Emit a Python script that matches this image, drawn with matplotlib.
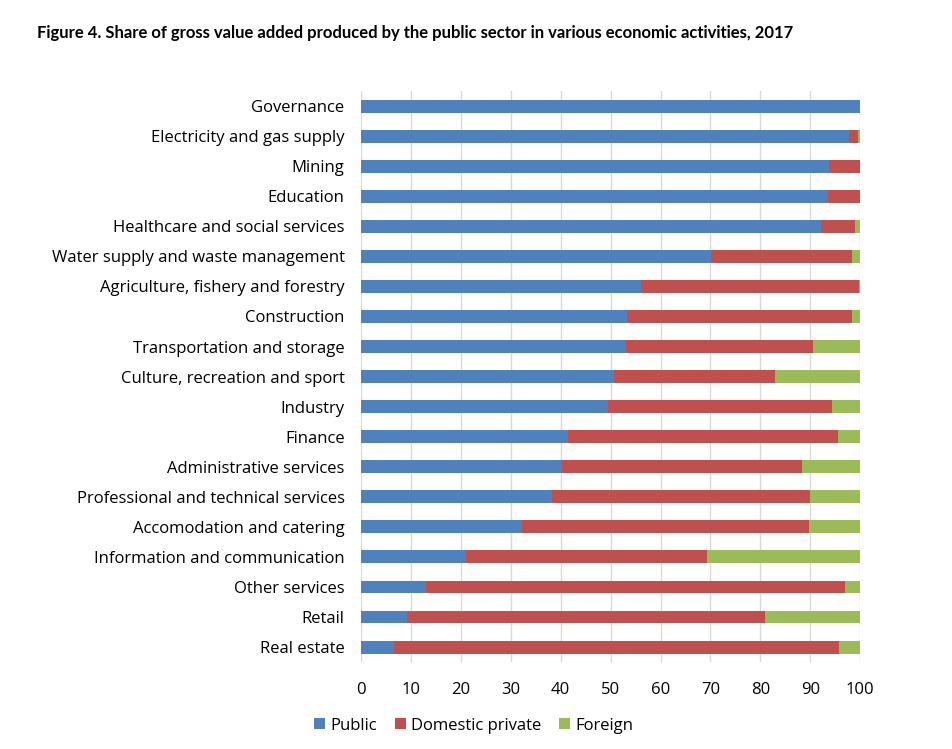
import matplotlib.pyplot as plt
import numpy as np

categories = [
    "Governance",
    "Electricity and gas supply",
    "Mining",
    "Education",
    "Healthcare and social services",
    "Water supply and waste management",
    "Agriculture, fishery and forestry",
    "Construction",
    "Transportation and storage",
    "Culture, recreation and sport",
    "Industry",
    "Finance",
    "Administrative services",
    "Professional and technical services",
    "Accomodation and catering",
    "Information and communication",
    "Other services",
    "Retail",
    "Real estate",
]
public = [100.0, 97.8, 93.8, 93.5, 92.2, 70.1, 56.0, 53.2, 53.0, 50.6,
          49.4, 41.5, 40.3, 38.2, 32.3, 21.1, 13.0, 9.2, 6.6]
domestic = [0.0, 1.7, 6.2, 6.5, 6.8, 28.2, 43.7, 45.1, 37.5, 32.3,
            45.0, 54.1, 48.1, 51.8, 57.5, 48.2, 84.0, 71.8, 89.2]
foreign = [0.0, 0.5, 0.0, 0.0, 1.0, 1.7, 0.3, 1.7, 9.5, 17.1,
           5.6, 4.4, 11.6, 10.0, 10.2, 30.7, 3.0, 19.0, 4.2]

colors = ["#4F81BD", "#C0504D", "#9BBB59"]

plt.rcParams['font.family'] = ['Open Sans', 'DejaVu Sans']

fig = plt.figure(figsize=(9.53, 7.49), dpi=100)
ax = fig.add_axes([0.379, 0.116, 0.5235, 0.7624])

y = np.arange(len(categories))
pub = np.array(public)
dom = np.array(domestic)
frn = np.array(foreign)
h = 0.43
ax.barh(y, pub, height=h, color=colors[0], label="Public", zorder=3)
ax.barh(y, dom, left=pub, height=h, color=colors[1], label="Domestic private", zorder=3)
ax.barh(y, frn, left=pub + dom, height=h, color=colors[2], label="Foreign", zorder=3)

ax.set_xlim(0, 100)
ax.set_ylim(len(categories) - 0.5, -0.5)
ax.set_xticks(range(0, 101, 10))
ax.set_yticks(y)
ax.set_yticklabels(categories, fontsize=12)
ax.tick_params(axis='x', labelsize=12, length=0, pad=14)
ax.tick_params(axis='y', length=0, pad=12)
ax.grid(axis='x', color='#D9D9D9', linewidth=1, zorder=0)
for s in ax.spines.values():
    s.set_visible(False)

fig.text(0.039, 0.956, "Figure 4. Share of gross value added produced by the public sector "
         "in various economic activities, 2017",
         fontsize=12, fontweight='bold', family=['Lato', 'DejaVu Sans'], va='center')

fig.legend(loc='center', bbox_to_anchor=(0.497, 0.031), ncol=3, frameon=False,
           fontsize=12, handlelength=0.65, handleheight=0.65, handletextpad=0.3,
           columnspacing=1.1)

fig.savefig("out.png", dpi=100)
